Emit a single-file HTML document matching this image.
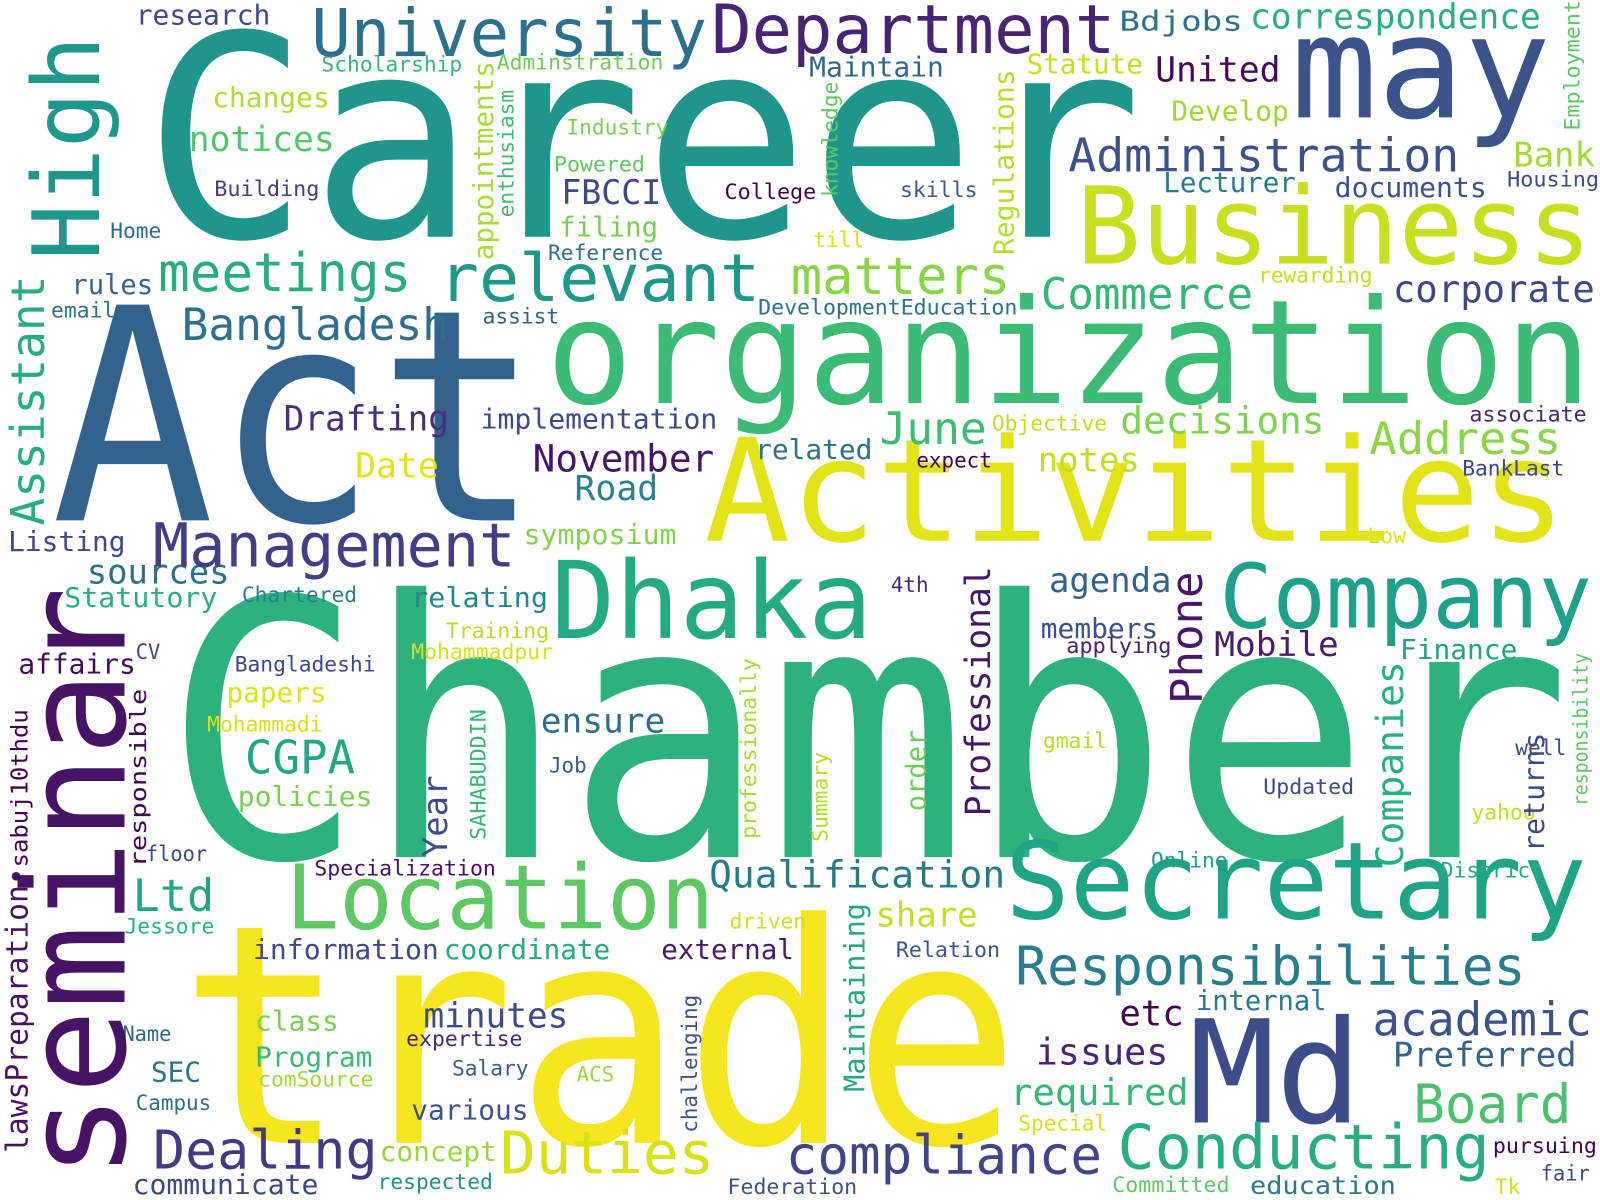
<!DOCTYPE html>
<html><head><meta charset="utf-8"><style>
html,body{margin:0;padding:0;background:#fff;}
svg{display:block;}
text{font-family:"DejaVu Sans Mono","Liberation Mono",monospace;}
</style></head><body>
<svg id="cloud" width="1600" height="1200" viewBox="0 0 1600 1200" xmlns="http://www.w3.org/2000/svg">
<rect width="1600" height="1200" fill="#ffffff"/>
<g id="words" transform="scale(1.0204)"></g>
</svg>
<script>
// [word, x, baselineY, fontSize, textLength, color, vertical]
const words = [
["Career",140,232,275,980,"#1f968b",0],
["Act",50,510,290,480,"#33638d",0],
["Chamber",160,840,350,1380,"#2db27d",0],
["trade",175,1120,300,825,"#f6e620",0],
["organization",535,395,142,1025,"#3bbb75",0],
["Activities",690,530,140,845,"#e2e418",0],
["Business",1055,258,105,505,"#c8e020",0],
["may",1265,115,140,255,"#3b528b",0],
["Dhaka",540,625,105,315,"#25ab82",0],
["Company",1195,615,87,365,"#1fa088",0],
["Secretary",985,900,105,570,"#20a486",0],
["Location",280,910,87,420,"#5ec962",0],
["Md",1165,1100,140,170,"#3e4c8a",0],
["Duties",490,1150,58,210,"#d8e219",0],
["Conducting",1095,1145,60,365,"#29af7f",0],
["compliance",770,1150,52,310,"#414487",0],
["Dealing",150,1145,52,220,"#443983",0],
["Responsibilities",995,965,52,500,"#287d8e",0],
["academic",1345,1015,45,215,"#3b528b",0],
["Board",1385,1100,52,155,"#4ac16d",0],
["Preferred",1365,1045,33,180,"#33638d",0],
["required",990,1083,36,175,"#35b779",0],
["issues",1015,1043,36,130,"#482677",0],
["etc",1097,1005,35,63,"#440154",0],
["internal",1172,990,27,128,"#2a788e",0],
["minutes",415,1007,34,142,"#3e4a89",0],
["various",403,1097,27,115,"#3b528b",0],
["Program",250,1045,27,115,"#3aba76",0],
["class",250,1010,27,82,"#7ad151",0],
["SEC",148,1060,27,49,"#2c728e",0],
["concept",372,1138,27,115,"#95d840",0],
["respected",370,1165,21,113,"#21918c",0],
["communicate",130,1170,27,182,"#3f4788",0],
["Federation",713,1170,21,127,"#3b528b",0],
["Committed",1090,1168,21,115,"#5ec962",0],
["education",1225,1170,24,143,"#2a788e",0],
["Tk",1465,1170,21,25,"#d0e11c",0],
["fair",1510,1157,21,48,"#404688",0],
["pursuing",1463,1130,21,102,"#440154",0],
["Special",998,1108,21,87,"#d8e219",0],
["Salary",443,1054,21,75,"#355f8d",0],
["ACS",565,1060,21,37,"#9fda3a",0],
["expertise",398,1025,21,114,"#482878",0],
["comSource",253,1065,21,113,"#a2da37",0],
["Campus",133,1088,21,74,"#2c728e",0],
["Name",120,1020,21,48,"#31688e",0],
["information",248,940,27,182,"#3e4a89",0],
["coordinate",435,940,27,163,"#23a983",0],
["external",648,940,27,130,"#481a6c",0],
["Relation",878,938,21,102,"#39568c",0],
["driven",715,910,21,75,"#d2e21b",0],
["share",858,908,33,100,"#c0df25",0],
["Jessore",122,915,21,88,"#2db27d",0],
["Ltd",130,893,44,80,"#22a785",0],
["Specialization",308,858,21,178,"#471063",0],
["Qualification",695,870,37,290,"#29798e",0],
["Online",1128,850,21,75,"#1f9e89",0],
["District",1412,860,21,100,"#25ab82",0],
["floor",143,844,21,60,"#3e4989",0],
["policies",233,790,27,132,"#7ad151",0],
["CGPA",240,758,45,108,"#22a785",0],
["Mohammadi",203,717,21,113,"#d8e219",0],
["papers",222,688,27,98,"#dde318",0],
["Bangladeshi",230,658,21,138,"#3f4788",0],
["affairs",18,660,27,115,"#46085c",0],
["CV",133,646,21,24,"#414487",0],
["Statutory",63,595,27,150,"#2ab07f",0],
["sources",85,572,33,140,"#2d708e",0],
["Chartered",237,590,21,113,"#277f8e",0],
["Listing",8,540,27,115,"#3e4989",0],
["Management",150,555,59,355,"#433e85",0],
["relating",403,595,27,134,"#24868e",0],
["Training",437,625,21,101,"#bade28",0],
["Mohammadpur",403,646,21,139,"#d2e21b",0],
["symposium",513,533,27,150,"#84d44b",0],
["Road",563,490,34,82,"#26828e",0],
["November",522,462,37,178,"#481467",0],
["Date",348,468,34,82,"#e5e419",0],
["Drafting",278,422,34,162,"#472f7d",0],
["implementation",471,420,27,232,"#3e4a89",0],
["June",862,435,44,105,"#3dbc74",0],
["Objective",972,422,21,113,"#bddf26",0],
["decisions",1098,425,37,200,"#7fd34e",0],
["associate",1440,413,21,115,"#482475",0],
["Address",1342,445,44,188,"#8bd646",0],
["related",740,450,27,115,"#2c728e",0],
["expect",898,458,21,74,"#440154",0],
["notes",1017,462,33,100,"#c2df23",0],
["BankLast",1433,466,21,100,"#3e4989",0],
["Low",1340,532,21,38,"#dde318",0],
["agenda",1028,580,33,120,"#33628d",0],
["4th",873,580,21,37,"#472c7a",0],
["members",1020,625,27,115,"#3b518b",0],
["applying",1045,640,21,103,"#482173",0],
["Mobile",1190,643,33,122,"#481d6f",0],
["Finance",1372,646,27,115,"#20a386",0],
["ensure",530,718,33,122,"#2f6c8e",0],
["Job",538,757,21,37,"#375b8d",0],
["gmail",1022,733,21,63,"#b5de2b",0],
["well",1485,740,21,50,"#3e4989",0],
["Updated",1238,778,21,89,"#3e4989",0],
["yahoo",1442,803,21,63,"#c2df23",0],
["Bangladesh",178,333,44,262,"#2e6e8e",0],
["meetings",155,285,52,248,"#27ad81",0],
["relevant",430,295,65,315,"#1f988b",0],
["matters",775,288,51,215,"#89d548",0],
["Commerce",1020,303,43,208,"#35b779",0],
["corporate",1365,296,37,198,"#3f4788",0],
["DevelopmentEducation",743,308,21,254,"#2c718e",0],
["rewarding",1233,277,21,112,"#c5e021",0],
["assist",473,317,21,75,"#32658e",0],
["rules",70,288,27,80,"#31688e",0],
["email",50,311,21,63,"#2c718e",0],
["Home",108,233,21,50,"#2e6f8e",0],
["Building",210,192,21,103,"#423f85",0],
["notices",185,148,34,143,"#54c568",0],
["changes",208,105,27,115,"#b0dd2f",0],
["Scholarship",315,70,21,138,"#35b779",0],
["research",133,24,27,132,"#3e4c8a",0],
["University",305,55,65,388,"#2d708e",0],
["Department",697,52,66,396,"#482475",0],
["Bdjobs",1097,30,27,121,"#2c728e",0],
["correspondence",1225,28,34,285,"#2ab07f",0],
["Adminstration",487,68,21,163,"#6ece58",0],
["Maintain",793,75,27,132,"#31688e",0],
["Statute",1006,72,27,114,"#c8e020",0],
["United",1132,80,34,123,"#46085c",0],
["Develop",1148,118,27,115,"#a0da39",0],
["Industry",555,132,21,100,"#7ad151",0],
["Powered",543,168,21,89,"#5ec962",0],
["FBCCI",550,200,33,98,"#3e4989",0],
["filing",548,232,27,97,"#75d054",0],
["Reference",537,255,21,113,"#2c728e",0],
["College",710,195,21,90,"#440154",0],
["skills",882,193,21,76,"#375b8d",0],
["till",797,242,21,50,"#d8e219",0],
["Administration",1047,168,45,383,"#3b528b",0],
["Lecturer",1140,188,27,130,"#287c8e",0],
["documents",1308,193,27,149,"#3b528b",0],
["Bank",1483,163,33,80,"#a2da37",0],
["Housing",1477,183,21,90,"#3e4c8a",0],
["High",97,255,91,220,"#1f988b",1],
["Assistant",43,515,45,245,"#26ad81",1],
["seminar",122,1155,138,580,"#471365",1],
["lawsPreparation•",27,1130,30,280,"#471164",1],
["sabuj10thdu",27,850,23,155,"#440154",1],
["responsible",143,850,22,175,"#440154",1],
["appointments",483,255,27,195,"#a8db34",1],
["enthusiasm",503,213,21,125,"#3dbc74",1],
["knowledge",821,193,21,113,"#5ec962",1],
["Regulations",993,250,27,182,"#b5de2b",1],
["Employment",1548,128,21,128,"#5ec962",1],
["Professional",970,800,34,245,"#481668",1],
["Phone",1178,690,43,130,"#481769",1],
["Companies",1375,850,37,202,"#2ab07f",1],
["returns",1513,835,28,117,"#3e4989",1],
["responsibility",1556,790,20,150,"#5ec962",1],
["Year",438,840,33,80,"#3e4c8a",1],
["SAHABUDDIN",476,823,21,128,"#35b779",1],
["professionally",741,822,21,177,"#a8db34",1],
["Summary",811,825,21,88,"#b5de2b",1],
["order",907,795,27,80,"#6ece58",1],
["Maintaining",847,1070,28,185,"#24aa83",1],
["challenging",683,1110,21,135,"#3b528b",1]
];
const NS="http://www.w3.org/2000/svg";
const grp=document.getElementById("words");
for(const w of words){
  const t=document.createElementNS(NS,"text");
  t.textContent=w[0];
  t.setAttribute("font-size",w[3]);
  t.setAttribute("fill",w[5]);
  t.setAttribute("textLength",w[4]);
  t.setAttribute("lengthAdjust","spacingAndGlyphs");
  if(w[6]){
    t.setAttribute("x",0);t.setAttribute("y",0);
    t.setAttribute("transform","translate("+w[1]+","+w[2]+") rotate(-90)");
  }else{
    t.setAttribute("x",w[1]);t.setAttribute("y",w[2]);
  }
  
  
  grp.appendChild(t);
}
</script>
</body></html>
